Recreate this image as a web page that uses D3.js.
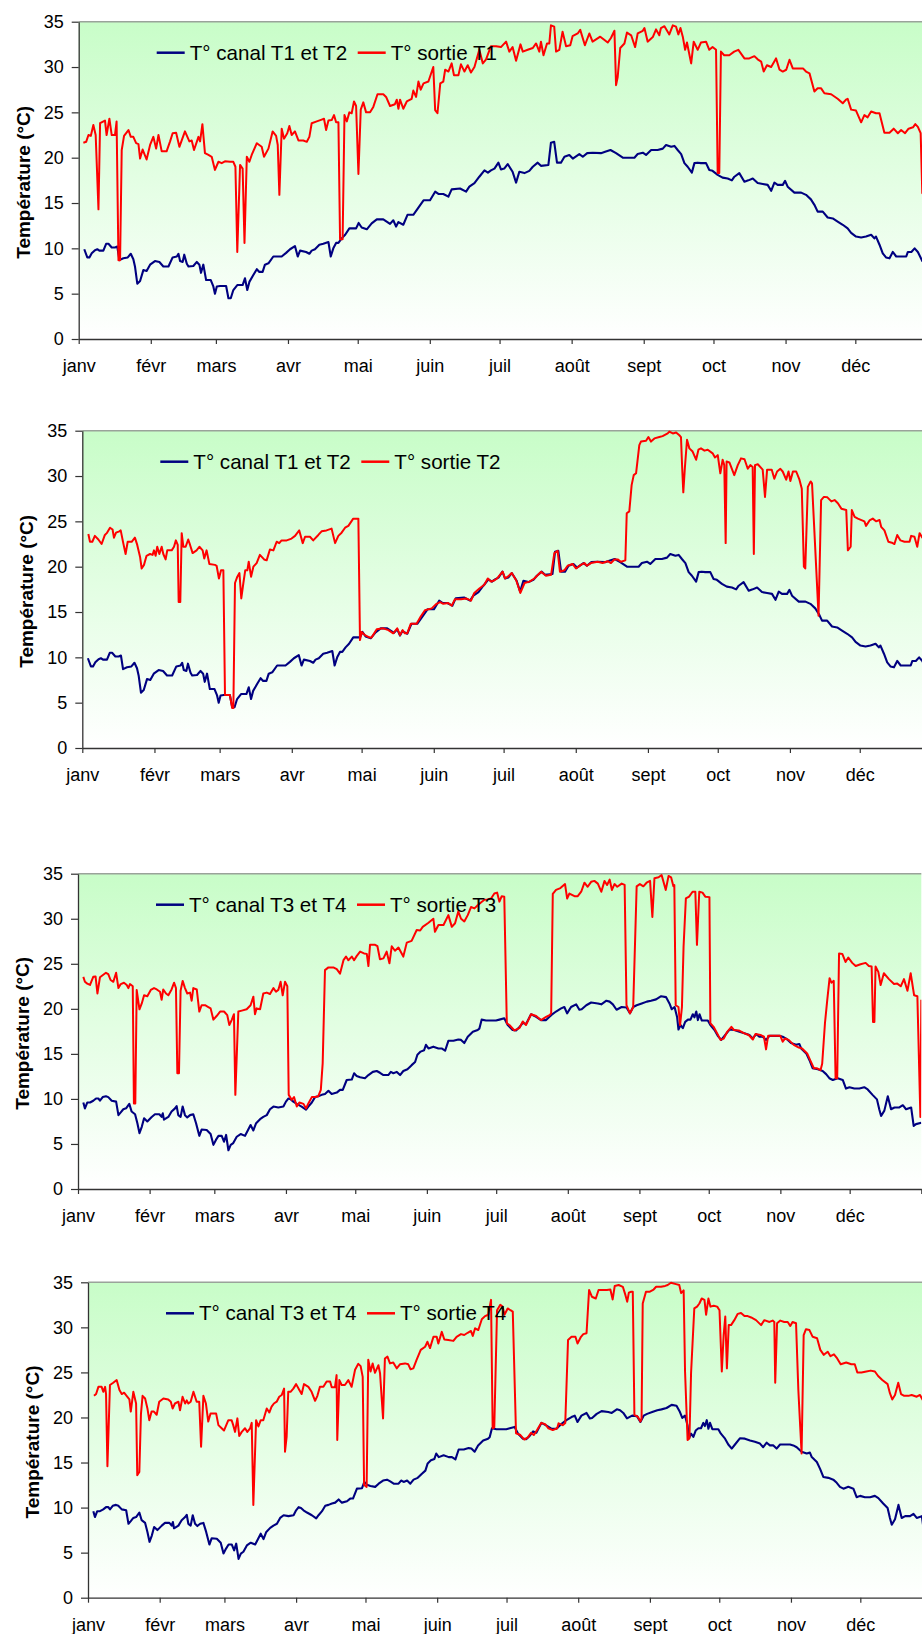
<!DOCTYPE html>
<html><head><meta charset="utf-8">
<script src="https://cdn.jsdelivr.net/npm/d3@7"></script>
<style>body{margin:0;background:#fff}svg{display:block}text{font-family:"Liberation Sans",Arial,sans-serif}</style>
</head><body><svg id="c" width="922" height="1634"></svg>
<script>
const monthLabels = ["janv","févr","mars","avr","mai","juin","juil","août","sept","oct","nov","déc"];
const yTicks = [0,5,10,15,20,25,30,35];
const yTitle = "Température (°C)";
const canalLabels = ["T° canal T1 et T2","T° canal T1 et T2","T° canal T3 et T4","T° canal T3 et T4"];
const sortieLabels = ["T° sortie T1","T° sortie T2","T° sortie T3","T° sortie T4"];

// [day of year, °C]
const canalT12 = [[2.4,9.9],[3.7,9.0],[4.6,9.0],[5.6,9.45],[7,9.8],[8,9.9],[8.9,9.75],[10.6,9.75],[11.8,10.5],[12.8,10.5],[14.2,10.1],[15.6,10.1],[16.6,10.2],[17.5,8.7],[19.2,8.9],[21.1,9.0],[22.4,9.4],[23.5,8.8],[24.2,8.0],[25.2,6.1],[26.4,6.4],[27.8,7.6],[29.2,7.5],[30.7,8.2],[32.8,8.6],[34.7,8.5],[36.4,8.0],[38.6,8.0],[40.4,9.0],[42.2,9.1],[42.9,9.4],[43.6,8.6],[44.7,8.5],[45.4,9.3],[46.5,8.3],[47.2,8.0],[49.3,8.05],[50.8,8.5],[51.9,8.2],[52.6,7.3],[53.6,8.2],[54.8,6.5],[56.8,6.5],[57.9,5.8],[58.6,5.0],[59.4,5.8],[60.8,5.85],[63.4,5.85],[64.4,4.5],[65.4,4.5],[66.5,5.4],[68.2,5.95],[70.5,5.95],[71.5,6.7],[72.5,5.4],[73.4,6.3],[75.1,7.05],[76.6,7.7],[77.7,7.4],[79.1,7.4],[80.1,8.2],[81.6,8.35],[83.7,9.1],[85.4,9.1],[87.3,9.1],[89.2,9.5],[90.9,9.9],[93.0,10.25],[94.2,9.1],[95.2,9.75],[97.8,9.6],[99.2,9.4],[100.2,9.75],[101.6,9.9],[103.5,10.4],[105.2,10.5],[107.4,10.7],[108.4,9.1],[109.5,10.0],[110.7,10.6],[111.7,10.6],[113.1,11.1],[114.6,11.5],[116.4,12.2],[119.3,12.2],[120.4,12.8],[121.7,12.3],[123.9,12.1],[126.0,12.75],[128.2,13.2],[131.0,13.2],[133.9,12.7],[135.3,13.1],[136.5,12.4],[137.5,12.9],[139.6,12.6],[141.4,13.7],[143.9,13.7],[146.1,14.5],[148.3,15.3],[151.1,15.3],[153.3,16.25],[154.7,16.0],[156.8,16.0],[159.0,15.7],[160.4,16.5],[164.0,16.6],[166.6,16.25],[168.0,16.8],[170.2,17.2],[172.3,17.9],[174.5,18.6],[176.0,18.35],[177.3,18.6],[178.8,18.8],[180.5,19.45],[181.6,18.7],[183.0,18.8],[184.5,19.3],[186.6,18.45],[188.1,17.25],[189.5,18.45],[191.7,18.3],[193.8,18.55],[195.3,19.0],[197.4,19.45],[198.8,19.1],[202.0,19.2],[203.1,21.65],[204.5,21.75],[205.7,19.45],[207.4,19.45],[208.9,20.1],[211.0,20.3],[212.5,19.9],[215.3,20.4],[216.8,20.1],[218.7,20.5],[221.1,20.55],[224.6,20.5],[226.4,20.65],[228.7,20.85],[231.1,20.5],[234.0,20.0],[236.1,20.0],[239.0,20.0],[240.4,20.4],[242.6,20.55],[244.0,20.3],[246.2,20.85],[249.0,20.85],[251.2,21.0],[252.6,21.4],[254.8,21.2],[256.2,21.3],[257.6,20.85],[259.1,20.4],[260.5,19.4],[261.9,19.0],[263.7,18.35],[264.8,19.4],[266.2,19.45],[267.6,19.4],[269.8,19.4],[271.2,18.65],[272.6,18.55],[274.8,18.1],[276.9,17.8],[279.1,17.7],[280.9,17.5],[282.0,17.9],[284.1,18.3],[286.3,17.35],[288.0,17.5],[289.9,17.7],[292.0,17.2],[294.2,17.1],[296.3,17.0],[297.8,16.35],[299.2,17.25],[300.6,17.0],[302.8,17.0],[303.8,17.45],[304.9,16.8],[307.8,16.15],[310.7,16.15],[312.8,15.9],[314.9,15.4],[316.4,14.8],[317.8,14.05],[320.0,14.05],[322.1,13.4],[324.3,13.3],[326.4,12.95],[328.6,12.6],[330.7,12.2],[332.2,11.7],[334.3,11.3],[336.5,11.2],[338.6,11.3],[340.8,11.5],[342.2,11.1],[342.9,11.3],[344.4,10.4],[345.8,9.45],[347.2,9.0],[348.7,8.9],[350.1,9.6],[351.6,9.1],[353.7,9.1],[355.9,9.1],[356.6,9.6],[358.1,9.6],[359.5,10.0],[360.9,9.6],[362.8,8.6],[364.5,8.8]];

const sortieT1 = [[2.0,21.65],[3.2,21.75],[4.2,22.5],[5.2,22.4],[6.3,23.6],[7.3,22.5],[8.5,14.3],[9.2,23.8],[11.3,24.1],[12.0,22.5],[13.2,24.3],[14.2,22.5],[15.6,22.5],[16.3,24.0],[17.1,8.7],[17.8,8.7],[18.5,20.85],[19.5,22.4],[21.4,23.05],[22.4,22.3],[23.5,22.3],[24.7,21.6],[25.7,21.5],[26.4,19.9],[27.5,20.9],[29.2,19.8],[30.7,21.4],[32.1,22.3],[33.3,21.0],[34.3,22.5],[35.7,20.7],[37.8,20.7],[39.3,21.8],[40.4,22.7],[41.9,22.75],[43.3,21.2],[45.7,22.9],[47.6,21.8],[48.6,21.9],[49.6,20.85],[51.5,22.3],[52.2,21.8],[53.2,23.7],[54.3,20.5],[55.8,20.3],[57.2,20.1],[58.6,18.65],[60.1,19.55],[61.5,19.4],[62.9,19.6],[65.1,19.55],[66.5,19.55],[67.4,19.0],[68.2,9.6],[69.4,19.2],[70.5,18.8],[71.3,10.6],[72.3,20.1],[73.4,19.55],[74.4,20.3],[76.6,21.6],[78.7,21.2],[79.7,20.1],[81.6,21.0],[83.4,22.9],[84.9,22.4],[85.6,21.4],[86.3,15.9],[87.3,23.2],[88.3,22.1],[89.7,22.7],[90.6,23.5],[91.6,22.5],[93.0,22.9],[94.5,21.9],[96.6,21.9],[98.1,21.75],[99.2,22.3],[100.2,23.8],[102.4,24.0],[104.5,24.2],[105.5,24.3],[106.4,23.05],[107.4,24.1],[108.8,24.15],[109.8,24.7],[110.7,23.9],[111.7,23.9],[112.4,11.0],[113.5,11.0],[114.3,24.7],[115.3,24.0],[116.4,25.0],[117.4,24.9],[118.4,26.2],[119.3,25.7],[120.3,18.2],[121.3,25.3],[122.4,26.1],[123.6,25.0],[125.3,25.0],[126.7,25.6],[128.5,27.0],[131.0,27.0],[132.2,26.7],[133.9,25.7],[136.0,25.9],[136.8,26.4],[137.5,25.4],[138.2,26.4],[139.6,25.4],[141.1,26.2],[143.2,26.5],[143.9,27.4],[145.1,26.7],[146.1,28.4],[147.1,27.5],[148.3,28.2],[150.4,28.4],[152.5,30.0],[153.3,25.25],[154.3,24.9],[155.5,28.2],[156.8,28.4],[157.6,29.7],[159.0,29.5],[160.4,30.4],[161.4,29.1],[163.3,29.1],[164.4,30.3],[165.9,29.5],[167.3,30.2],[168.7,29.4],[170.2,30.0],[172.3,31.9],[173.8,30.4],[175.2,30.85],[177.3,32.3],[179.5,32.3],[181.6,32.2],[183.8,32.8],[185.2,31.7],[186.6,32.2],[188.1,30.7],[190.0,32.5],[191.0,31.7],[193.1,31.9],[195.3,32.1],[196.7,32.6],[198.1,31.7],[198.8,32.8],[199.9,31.3],[201.4,32.6],[202.4,32.6],[203.1,34.6],[204.5,34.45],[205.3,31.7],[206.7,31.9],[208.1,33.9],[209.6,32.3],[211.4,32.4],[212.4,33.4],[214.6,33.7],[215.7,34.1],[217.7,32.4],[219.6,33.7],[221.0,32.8],[222.5,33.05],[224.3,33.35],[226.0,33.0],[227.5,32.7],[228.9,33.2],[230.4,34.0],[231.1,28.0],[231.8,28.9],[232.9,32.1],[234.7,32.6],[235.8,33.8],[237.6,33.5],[239.3,32.2],[240.4,33.7],[242.6,34.0],[243.3,34.3],[244.7,32.8],[246.9,33.3],[248.3,34.15],[249.7,33.5],[250.4,34.3],[251.9,34.5],[254.0,33.6],[255.5,34.6],[256.9,34.45],[257.9,33.6],[258.8,34.3],[259.8,33.35],[260.8,31.9],[261.6,32.7],[263.4,30.4],[264.5,32.8],[266.2,31.9],[267.6,32.7],[269.8,32.8],[271.2,31.9],[272.6,32.2],[274.1,31.9],[274.8,18.3],[275.5,18.3],[276.2,31.7],[277.6,31.3],[279.8,31.3],[281.9,31.7],[283.7,31.9],[286.3,30.95],[288.4,30.95],[290.6,31.2],[292.0,30.85],[293.5,30.6],[294.6,29.5],[296.0,30.2],[297.8,30.0],[299.9,30.95],[301.4,29.7],[302.8,29.5],[304.3,29.7],[305.7,30.8],[307.1,29.85],[309.3,29.85],[311.5,29.85],[312.8,29.5],[314.3,29.3],[316.4,27.3],[317.8,27.65],[319.3,27.65],[320.7,27.1],[323.6,27.0],[326.4,26.5],[328.6,26.0],[330.0,26.4],[330.7,26.5],[332.2,25.3],[334.3,25.2],[336.5,23.9],[337.9,24.7],[339.3,24.45],[340.8,25.1],[342.9,24.9],[344.4,24.9],[346.5,22.75],[348.7,22.75],[350.5,23.2],[352.3,22.7],[353.7,23.05],[355.4,22.7],[356.9,23.2],[358.8,23.35],[359.8,23.7],[360.9,23.4],[362.1,22.7],[362.8,16.1],[364.5,15.5]];

const sortieT2 = [[2.6,23.6],[3.3,22.75],[4.3,22.75],[5.4,23.4],[6.9,23.0],[8.3,22.5],[9.7,23.5],[10.5,23.7],[11.9,24.3],[13.0,24.1],[13.6,23.2],[14.5,23.75],[15.9,23.9],[16.5,24.0],[17.6,22.6],[18.6,21.4],[19.5,22.75],[21.2,22.75],[22.6,23.2],[23.6,22.4],[24.8,21.1],[25.5,19.8],[26.5,20.2],[27.6,21.2],[29.1,21.4],[30.2,21.3],[30.8,21.8],[31.5,21.2],[32.2,22.2],[33.1,21.4],[34.1,22.2],[34.8,21.4],[35.8,20.8],[36.5,21.8],[38.4,21.8],[39.4,22.2],[40.2,22.9],[41.0,22.4],[41.4,16.1],[42.1,16.1],[42.7,23.7],[43.4,22.2],[44.4,22.2],[45.5,23.0],[46.3,22.4],[47.4,21.5],[49.1,21.8],[50.3,22.2],[51.7,21.8],[52.4,20.9],[53.4,21.8],[54.6,20.3],[57.0,20.2],[57.7,20.1],[58.7,18.7],[59.6,19.6],[60.6,19.6],[61.3,5.85],[63.4,5.85],[64.4,4.4],[64.9,4.4],[65.6,18.2],[66.6,18.9],[67.5,19.3],[68.3,16.5],[69.2,18.2],[70.0,19.6],[70.9,19.6],[71.5,20.55],[72.5,18.9],[73.5,20.0],[74.9,20.4],[76.3,21.3],[78.1,20.8],[79.2,20.7],[80.6,21.9],[82.1,21.8],[83.5,22.75],[84.6,22.6],[85.6,22.9],[87.8,22.9],[89.9,23.1],[91.4,23.4],[93.2,24.0],[94.7,22.6],[95.7,23.3],[97.8,23.3],[99.2,22.9],[101.4,23.5],[102.8,23.9],[104.9,24.0],[107.1,24.2],[108.6,22.6],[110.0,23.4],[111.4,23.75],[112.9,24.3],[114.3,24.5],[116.4,25.3],[118.6,25.3],[119.3,11.9],[120.0,12.8],[121.4,12.45],[123.3,12.2],[124.3,12.2],[126.5,13.1],[129.3,13.2],[131.5,13.0],[133.6,12.65],[135.3,13.2],[136.5,12.45],[137.6,13.0],[138.6,12.65],[139.6,12.65],[141.1,13.7],[143.6,13.7],[145.4,14.5],[147.2,15.2],[150.1,15.4],[152.2,15.9],[153.7,16.1],[155.1,15.9],[157.2,16.0],[158.7,15.7],[160.1,16.4],[162.7,16.4],[164.9,16.5],[167.0,16.25],[168.4,17.1],[170.6,17.6],[172.7,18.0],[174.2,18.7],[175.6,18.35],[177.1,18.5],[178.2,18.7],[180.6,19.45],[181.6,18.7],[182.8,18.9],[184.5,19.3],[186.4,18.5],[188.2,17.1],[190.0,18.2],[192.1,18.35],[194.2,18.7],[197.1,19.45],[199.2,19.0],[201.4,19.1],[202.8,21.5],[204.2,21.75],[205.2,19.45],[207.1,19.6],[208.5,20.1],[210.6,20.3],[212.1,19.8],[214.2,20.2],[215.7,20.4],[216.8,20.1],[218.5,20.4],[221.4,20.55],[223.5,20.4],[225.7,20.6],[227.1,20.4],[228.6,20.8],[230.0,20.8],[231.4,20.55],[233.3,20.7],[233.9,25.9],[235.0,26.1],[236.0,29.0],[236.9,30.1],[237.9,30.3],[239.3,33.4],[240.0,33.8],[242.2,33.9],[243.2,34.3],[244.3,33.8],[245.8,34.15],[247.9,34.3],[249.3,34.4],[251.5,34.7],[252.2,34.9],[253.7,34.7],[255.1,34.8],[256.5,34.5],[257.2,34.3],[257.7,31.0],[258.2,28.2],[258.9,31.0],[259.8,34.0],[260.8,33.05],[262.2,32.7],[263.7,31.8],[264.7,32.9],[265.8,33.05],[267.3,32.8],[268.7,32.9],[270.8,32.5],[271.8,32.05],[273.0,32.3],[274.1,30.3],[275.1,31.8],[275.8,31.2],[276.4,22.6],[276.8,31.6],[278.0,31.5],[280.1,30.1],[281.6,31.2],[283.0,31.95],[284.5,31.85],[285.9,30.8],[287.0,31.2],[288.0,31.0],[288.5,21.4],[289.0,31.2],[290.2,31.3],[292.3,30.7],[293.3,27.7],[294.2,30.7],[296.2,30.7],[297.3,29.7],[298.5,30.5],[299.9,30.8],[300.9,30.5],[302.4,29.6],[303.4,30.5],[304.2,29.45],[305.3,30.5],[306.7,30.5],[308.1,29.6],[309.1,28.6],[310.0,20.0],[310.6,19.8],[311.7,28.8],[312.9,29.4],[313.5,29.2],[316.3,14.6],[317.4,27.35],[318.6,27.7],[320.1,27.65],[321.8,27.2],[323.2,27.35],[324.6,27.0],[326.1,26.4],[328.2,26.25],[328.9,21.8],[330.1,22.2],[330.6,26.25],[331.8,25.5],[333.2,25.3],[336.0,25.0],[336.7,24.5],[338.2,25.1],[339.6,25.3],[341.0,25.0],[342.5,25.15],[343.2,24.4],[344.6,24.0],[346.3,22.75],[347.8,22.65],[348.9,22.5],[350.1,23.5],[351.5,22.9],[353.2,22.75],[355.4,22.75],[356.1,23.4],[357.5,23.3],[358.7,22.2],[359.7,23.7],[360.9,23.2],[363,23.0]];

const canalT34 = [[2.3,9.6],[3.0,8.95],[4.0,9.6],[5.2,9.6],[6.6,9.8],[7.8,10.05],[8.8,10.05],[9.5,9.8],[10.7,10.2],[12.1,10.3],[13.1,10.2],[14.6,9.8],[16.5,9.7],[17.5,8.2],[18.5,8.5],[19.6,8.85],[20.8,8.95],[22.2,9.45],[23.2,8.6],[24.7,8.3],[25.7,7.3],[26.6,6.2],[27.6,6.9],[28.6,7.85],[30.0,7.5],[31.9,8.0],[33.3,8.3],[35.2,8.3],[36.2,8.0],[36.7,8.4],[37.2,7.7],[39.1,8.0],[40.5,8.6],[42.0,8.95],[42.7,9.2],[43.4,8.2],[44.4,8.0],[45.3,9.15],[46.3,8.2],[47.3,7.95],[48.5,8.2],[49.9,8.3],[51.1,7.3],[52.5,5.9],[53.5,6.6],[55.7,6.55],[57.4,6.1],[58.6,4.9],[59.7,5.45],[60.8,5.9],[62.2,5.9],[63.2,5.25],[64.1,6.0],[65.1,4.3],[66.1,4.9],[67.2,5.1],[68.7,5.8],[70.4,6.1],[72.3,5.9],[73.7,6.6],[74.7,7.1],[75.9,6.5],[77.1,7.3],[78.8,7.75],[80.2,8.0],[81.7,8.2],[83.1,8.85],[84.6,9.15],[86.7,9.05],[88.9,9.15],[90.0,9.7],[91.1,10.05],[92.1,9.95],[93.2,9.7],[94.7,9.45],[96.8,9.15],[98.7,8.8],[99.7,9.15],[101.2,9.6],[102.6,10.2],[104.0,10.3],[105.5,10.45],[106.9,10.55],[108.4,10.9],[109.8,10.55],[112.0,10.7],[113.4,11.0],[114.6,11.0],[116.3,12.1],[118.5,12.15],[119.5,12.85],[120.6,12.55],[122.1,12.4],[124.2,12.3],[125.7,12.65],[127.6,13.0],[129.3,13.1],[130.7,12.9],[132.2,12.65],[134.3,12.65],[135.4,13.0],[136.5,12.85],[138.0,13.0],[139.4,12.65],[140.8,13.1],[142.6,13.3],[144.4,13.75],[145.9,14.1],[146.9,14.9],[148.3,15.25],[149.8,15.4],[150.6,16.0],[151.7,15.6],[153.8,15.8],[156.0,15.6],[157.4,15.6],[158.9,15.35],[160.3,16.45],[162.5,16.45],[164.6,16.6],[165.8,16.55],[167.2,16.2],[168.7,16.9],[170.9,17.45],[173.0,17.65],[173.7,17.8],[174.7,18.8],[176.6,18.7],[178.8,18.7],[180.9,18.7],[182.4,18.8],[184.5,18.95],[186.0,18.2],[188.1,17.65],[189.6,17.6],[191.0,17.95],[192.5,18.45],[193.9,18.3],[196.1,19.4],[198.3,19.1],[200.4,18.75],[202.6,18.75],[204.8,19.3],[206.9,19.7],[209.1,20.05],[210.5,20.2],[211.7,19.5],[213.4,20.2],[215.6,20.5],[217.0,19.9],[218.0,19.95],[220.0,20.4],[222.1,20.7],[225.0,20.6],[226.5,20.5],[228.7,20.9],[230.1,20.8],[231.5,20.5],[233.1,19.9],[235.3,20.2],[237.4,20.15],[238.9,19.5],[240.3,20.2],[241.8,20.4],[244.0,20.6],[246.2,20.8],[248.0,20.9],[250.2,21.05],[252.4,21.4],[254.5,21.3],[256.0,20.6],[257.0,19.95],[258.2,20.2],[259.3,19.1],[259.9,17.7],[260.8,18.2],[261.8,17.85],[262.8,18.55],[264.0,18.8],[265.1,18.8],[266.1,19.4],[266.8,19.05],[267.6,19.7],[268.3,18.75],[269.0,19.4],[270.0,18.7],[272.6,18.7],[273.7,18.2],[275.5,17.65],[276.9,17.0],[278.4,16.55],[279.8,17.0],[282.0,17.7],[284.1,17.65],[286.3,17.45],[288.4,17.3],[290.6,17.1],[292.0,16.7],[293.5,17.2],[294.9,16.9],[296.4,16.9],[297.8,16.55],[299.3,17.0],[301.4,17.0],[303.6,17.0],[305.0,16.9],[306.5,16.7],[308.6,16.2],[310.8,16.0],[312.2,16.1],[313.0,15.6],[315.2,15.05],[316.6,14.3],[318.0,13.4],[320.2,13.3],[322.3,13.1],[323.8,12.75],[325.2,12.3],[326.7,12.1],[328.8,12.3],[331.0,12.1],[332.4,11.15],[333.9,11.3],[336.0,11.15],[338.2,11.15],[340.3,11.3],[341.8,11.05],[343.9,10.45],[345.8,9.95],[346.8,8.85],[347.6,8.1],[349.0,8.7],[350.5,10.3],[351.9,8.85],[353.4,9.05],[355.5,9.05],[357.0,9.3],[358.4,8.85],[360.6,9.05],[361.7,7.0],[362.7,7.2],[365,7.35]];

const sortieT3 = [[2.3,23.55],[3.0,23.0],[4.0,22.8],[5.2,22.65],[6.6,23.55],[7.6,23.6],[8.4,21.7],[9.5,23.5],[10.8,23.75],[12.1,24.0],[13.1,23.85],[14.1,23.2],[15.3,23.0],[16.5,24.0],[17.5,22.3],[18.5,22.75],[19.9,22.9],[21.1,22.65],[21.8,22.3],[22.5,22.75],[23.7,22.5],[24.2,9.5],[24.8,9.5],[25.4,22.1],[26.6,19.95],[27.6,20.6],[28.6,21.5],[30.0,21.4],[31.5,22.1],[32.9,22.3],[34.1,22.15],[35.5,21.9],[36.2,21.0],[36.9,22.15],[38.1,21.7],[39.1,21.5],[40.5,22.15],[41.6,22.9],[42.4,22.3],[43.0,12.85],[43.7,12.85],[44.4,22.0],[45.3,23.1],[46.3,22.3],[47.3,21.7],[48.5,21.8],[49.2,20.9],[49.9,22.3],[51.4,22.15],[52.5,19.7],[53.5,20.4],[55.0,20.4],[56.4,20.2],[57.4,20.05],[58.6,18.8],[60.0,19.2],[61.5,19.7],[63.2,19.7],[64.6,19.3],[65.5,18.2],[66.5,18.75],[67.5,19.4],[68.1,10.45],[69.4,19.7],[70.9,19.8],[73.0,19.95],[74.7,20.4],[75.9,21.35],[76.6,19.4],[77.3,20.05],[78.8,19.95],[80.2,21.7],[81.7,21.8],[83.1,21.65],[84.6,22.3],[85.7,21.9],[86.7,22.1],[87.7,23.0],[88.6,21.5],[89.6,23.0],[90.6,22.5],[91.2,10.45],[92.5,9.9],[93.5,10.2],[94.7,9.15],[95.8,9.6],[97.6,9.45],[98.7,8.95],[99.7,9.5],[101.2,10.2],[102.6,10.2],[104.0,10.3],[105.1,11.0],[105.9,13.95],[106.9,24.3],[108.4,24.6],[110.5,24.6],[112.0,24.4],[113.4,23.9],[114.9,25.4],[116.0,25.8],[117.0,25.4],[118.5,25.8],[119.5,25.4],[120.6,25.85],[122.1,26.35],[123.8,26.15],[125.0,26.1],[125.7,24.75],[126.4,27.1],[128.6,27.1],[129.6,26.95],[130.7,25.5],[132.2,25.6],[133.6,26.35],[134.8,25.05],[135.8,26.95],[137.2,26.45],[138.7,26.8],[140.8,25.8],[142.3,27.35],[144.4,27.55],[146.6,28.75],[148.1,28.7],[149.2,29.1],[151.7,29.55],[153.8,30.0],[154.5,28.55],[156.0,29.3],[158.2,29.3],[160.3,30.4],[161.8,29.1],[163.2,29.5],[164.6,30.8],[165.8,30.0],[167.2,29.7],[168.7,30.4],[170.1,31.3],[171.6,31.15],[173.0,31.5],[174.4,31.8],[175.9,32.1],[177.3,32.15],[178.8,32.25],[180.2,32.8],[181.4,32.9],[182.4,31.9],[183.4,32.5],[184.5,32.45],[185.6,18.4],[186.7,18.2],[188.9,17.6],[191.0,17.85],[192.5,18.6],[193.9,18.2],[196.1,19.4],[198.3,19.2],[200.4,18.75],[202.6,19.1],[204.1,19.3],[204.8,19.5],[205.5,32.75],[206.9,33.2],[208.8,33.4],[210.8,33.85],[211.7,32.25],[212.7,32.8],[214.9,32.5],[216.3,32.5],[217.8,33.0],[219.2,34.0],[220.6,33.55],[222.1,34.1],[223.5,34.2],[225.0,33.9],[226.5,33.0],[227.9,34.2],[229.0,33.75],[230.1,34.35],[231.1,33.2],[232.2,33.85],[233.4,33.55],[235.3,33.9],[236.6,33.75],[237.4,20.4],[238.9,19.5],[240.3,20.2],[241.8,33.6],[243.2,33.85],[244.7,33.6],[246.1,34.0],[247.6,34.2],[248.6,30.2],[249.5,34.5],[251.3,34.6],[252.6,34.85],[254.4,33.2],[255.6,34.75],[256.7,34.6],[257.7,33.6],[258.1,33.75],[258.7,20.4],[259.9,20.2],[260.6,18.2],[261.4,20.2],[262.1,26.9],[263.1,32.25],[264.5,32.45],[266.0,33.0],[267.2,33.0],[267.9,27.1],[268.9,33.0],[270.3,32.9],[271.5,32.45],[273.3,32.4],[273.7,18.4],[275.1,18.0],[276.6,17.3],[278.1,16.55],[279.5,16.7],[281.0,17.45],[282.8,18.0],[283.9,17.65],[286.0,17.6],[288.2,17.3],[290.3,17.1],[292.1,16.6],[293.2,17.2],[295.4,17.1],[296.9,16.9],[297.8,15.5],[298.7,17.0],[301.2,17.0],[304.0,17.0],[305.0,16.35],[306.0,16.7],[307.6,16.55],[309.8,16.0],[312.0,15.7],[313.4,15.6],[315.6,15.05],[317.0,14.25],[318.5,13.4],[319.9,13.4],[321.4,13.2],[322.1,13.9],[323.3,18.4],[324.3,21.0],[325.3,23.4],[326.1,22.9],[327.1,23.1],[327.9,12.3],[328.6,12.3],[329.4,26.15],[330.8,26.1],[332.2,25.2],[333.4,25.7],[335.1,25.1],[336.6,24.75],[338.7,24.95],[340.9,25.1],[342.3,24.75],[343.5,24.7],[344.1,18.55],[344.7,18.55],[345.2,24.7],[346.4,24.1],[347.4,22.65],[348.8,23.95],[351.0,23.3],[353.2,22.75],[354.6,22.8],[356.1,22.5],[357.5,23.3],[359.0,22.0],[360.4,23.95],[361.9,21.5],[363.3,21.4],[364.6,8.0],[365,21.0]];

const sortieT4 = [[2.6,22.4],[3.5,22.6],[4.5,23.4],[5.9,23.4],[6.6,22.85],[7.4,23.4],[7.8,22.6],[8.4,14.6],[9.5,23.6],[10.9,23.85],[12.4,24.15],[13.6,23.05],[14.6,22.6],[15.6,22.75],[16.7,22.4],[17.9,22.0],[18.5,20.65],[19.6,22.85],[20.8,21.55],[21.3,13.6],[22.2,13.95],[22.9,20.4],[23.6,22.4],[24.7,22.1],[25.7,21.0],[26.5,19.7],[27.5,20.65],[28.5,20.65],[29.7,20.3],[30.8,21.75],[32.6,22.1],[34.7,22.0],[35.8,21.75],[36.6,21.0],[37.6,21.55],[39.1,21.75],[39.8,20.8],[40.9,22.3],[42.0,21.55],[42.7,21.9],[43.4,21.55],[44.4,21.75],[45.6,22.85],[47.0,21.75],[48.1,21.75],[48.9,16.75],[49.9,22.4],[51.0,21.55],[52.0,19.55],[53.0,20.45],[54.2,20.45],[55.4,20.45],[56.4,19.15],[57.8,18.8],[58.8,18.55],[60.7,19.7],[62.1,19.7],[62.8,19.15],[63.6,18.4],[64.6,19.9],[65.4,17.95],[66.5,18.4],[67.9,18.8],[68.9,18.4],[70.1,18.8],[70.8,19.4],[71.5,10.3],[72.7,19.7],[73.7,19.0],[74.7,19.7],[75.8,19.7],[77.3,21.0],[78.4,20.55],[79.4,21.2],[80.4,21.55],[81.6,21.75],[82.7,22.3],[83.8,22.5],[84.8,23.2],[85.2,16.2],[85.9,17.85],[86.6,22.85],[87.6,22.85],[88.8,23.2],[90.0,23.7],[91.4,23.05],[92.4,22.6],[93.4,23.7],[95.3,23.4],[96.7,22.85],[98.2,21.85],[99.2,22.4],[100.3,23.4],[101.8,23.4],[103.2,24.0],[104.7,24.0],[105.4,23.35],[106.8,23.35],[107.5,24.7],[107.8,17.5],[108.7,24.15],[109.7,23.6],[111.1,23.6],[112.6,24.15],[114.0,23.4],[115.5,25.3],[116.9,25.95],[117.9,25.7],[118.8,24.5],[119.4,12.5],[120.5,12.3],[121.2,26.4],[122.2,25.1],[123.1,26.0],[124.1,24.95],[125.6,25.8],[126.3,24.9],[127.6,19.9],[128.4,26.55],[129.5,26.75],[130.6,26.0],[132.0,26.1],[133.5,25.45],[134.9,25.9],[137.1,26.0],[138.5,25.9],[139.5,25.35],[140.7,25.45],[142.1,26.4],[143.9,27.5],[145.8,27.85],[146.8,28.4],[147.9,27.7],[149.4,28.95],[150.8,28.95],[151.5,28.2],[153.0,29.5],[154.1,28.65],[155.8,28.6],[158.0,28.5],[159.4,28.95],[161.3,29.25],[162.7,29.15],[164.2,29.4],[165.6,29.6],[166.4,29.05],[167.4,29.9],[168.8,29.7],[170.3,30.9],[171.7,31.25],[173.1,31.4],[174.3,33.05],[175.0,18.8],[175.7,18.9],[176.9,31.9],[178.3,32.5],[179.3,32.3],[180.1,31.4],[181.5,32.1],[182.7,31.9],[183.7,31.75],[185.1,18.25],[187.0,18.05],[188.7,17.55],[190.2,17.8],[191.6,18.3],[192.8,18.05],[194.2,18.6],[196.0,19.4],[197.7,19.25],[199.1,18.8],[201.0,18.6],[202.9,18.8],[203.5,19.35],[205.3,19.15],[206.4,19.4],[207.6,28.6],[209.1,28.95],[210.8,28.95],[211.7,28.2],[213.2,28.95],[214.2,29.25],[215.6,29.35],[216.7,34.15],[217.9,33.4],[219.6,33.2],[220.8,34.15],[222.3,34.15],[224.4,34.15],[225.9,34.2],[226.9,33.1],[227.8,34.6],[229.5,34.7],[231.3,34.5],[232.4,33.6],[233.2,32.85],[233.9,33.85],[234.9,33.95],[235.6,33.95],[236.3,20.3],[237.7,20.1],[238.9,19.55],[239.4,19.9],[239.9,32.65],[241.3,33.95],[242.8,33.95],[244.6,34.2],[245.7,34.5],[247.8,34.5],[249.6,34.6],[250.7,34.7],[252.1,34.95],[254.3,34.8],[255.7,34.7],[256.5,33.8],[257.6,34.1],[258.2,25.1],[259.3,17.5],[260.1,17.7],[260.8,24.9],[262.2,32.1],[263.4,32.3],[264.4,32.65],[265.4,33.2],[266.6,33.05],[267.3,31.4],[268.3,33.2],[269.2,32.3],[270.6,32.4],[272.1,32.3],[273.1,31.9],[274.1,25.1],[274.9,29.15],[275.6,31.2],[276.3,25.45],[277.1,30.25],[278.1,30.25],[279.5,30.8],[281.0,31.5],[282.4,31.6],[283.9,31.25],[285.3,31.25],[286.8,31.1],[288.9,30.8],[291.1,30.25],[292.5,30.8],[294.7,30.6],[296.1,30.75],[296.8,30.6],[297.2,23.85],[298.0,30.45],[299.4,30.75],[301.1,30.6],[302.6,30.6],[303.7,30.15],[304.7,30.6],[306.2,30.45],[307.2,23.05],[308.0,19.0],[308.6,16.0],[309.5,29.15],[310.5,29.8],[312.0,29.7],[313.4,28.95],[315.3,28.8],[316.7,27.5],[318.2,26.95],[319.9,27.3],[321.1,26.8],[322.6,27.0],[324.0,26.55],[325.5,25.9],[327.9,26.1],[330.1,25.9],[331.6,25.9],[332.7,25.0],[334.5,25.0],[336.6,25.1],[338.5,25.2],[340.3,25.1],[341.7,24.6],[343.5,24.15],[345.8,23.7],[346.8,22.7],[347.8,22.0],[349.0,22.5],[350.4,23.85],[351.6,22.6],[353.0,22.4],[354.8,22.4],[356.2,22.5],[358.4,22.3],[359.8,22.5],[361.0,21.95],[363,21.8]];

const canalSeries = [canalT12, canalT12, canalT34, canalT34];
const sortieSeries = [sortieT1, sortieT2, sortieT3, sortieT4];

// layout of the four panels (pixels)
const frames = [
  {left:78.7, top:21.7,   bottom:339,    right:927.4},
  {left:82.3, top:430.7,  bottom:748,    right:931.9},
  {left:78,   top:873.7,  bottom:1189,   right:921.3},
  {left:88,   top:1282.3, bottom:1597.7, right:932}
];

const svg = d3.select("#c");
const defs = svg.append("defs");
const grad = defs.append("linearGradient").attr("id","bg").attr("x1",0).attr("y1",0).attr("x2",0).attr("y2",1);
grad.append("stop").attr("offset","0%").attr("stop-color","#C8FDC8");
grad.append("stop").attr("offset","100%").attr("stop-color","#FFFFFF");

const t0 = new Date(Date.UTC(2007,0,1));
const t1 = new Date(Date.UTC(2008,0,1));
const toDate = d => new Date(t0.getTime() + d*864e5);
const monthTicks = d3.utcMonth.range(t0, new Date(Date.UTC(2008,0,2)));

frames.forEach((f,i)=>{
  const x = d3.scaleUtc().domain([t0,t1]).range([f.left,f.right]);
  const y = d3.scaleLinear().domain([0,35]).range([f.bottom,f.top]);
  const g = svg.append("g");
  const w = Math.min(f.right,922) - f.left;

  defs.append("clipPath").attr("id","clip"+i).append("rect")
    .attr("x",f.left).attr("y",f.top-3).attr("width",f.right-f.left).attr("height",f.bottom-f.top+6);

  g.append("rect").attr("x",f.left).attr("y",f.top).attr("width",w).attr("height",f.bottom-f.top)
    .attr("fill","url(#bg)");
  g.append("line").attr("x1",f.left).attr("x2",f.right).attr("y1",f.top).attr("y2",f.top)
    .attr("stroke","#9aa39a").attr("stroke-width",1.6);

  // axes
  const ya = g.append("g").attr("transform",`translate(${f.left},0)`)
    .call(d3.axisLeft(y).tickValues(yTicks).tickSize(7).tickSizeOuter(0).tickPadding(8).tickFormat(d3.format("d")));
  const xa = g.append("g").attr("transform",`translate(0,${f.bottom})`)
    .call(d3.axisBottom(x).tickValues(monthTicks).tickSize(5).tickSizeOuter(0).tickPadding(15.5)
      .tickFormat((d,k)=> k < monthLabels.length ? monthLabels[k] : ""));
  [ya,xa].forEach(a=>{
    a.select(".domain").attr("stroke","#333").attr("stroke-width",1.3);
    a.selectAll(".tick line").attr("stroke","#333").attr("stroke-width",1.2);
    a.selectAll(".tick text").attr("fill","#000").style("font-size","18px")
      .style("font-family","'Liberation Sans', Arial, sans-serif");
  });

  g.append("text")
    .attr("transform",`translate(${f.left-55.5},${(f.top+f.bottom)/2+2}) rotate(-90)`)
    .attr("text-anchor","middle").attr("dy","0.35em")
    .style("font-size","19px").style("font-weight","bold").text(yTitle);

  const line = d3.line().x(d=>x(toDate(d[0]))).y(d=>y(d[1]));
  const lg = g.append("g").attr("clip-path",`url(#clip${i})`);
  lg.append("path").datum(canalSeries[i]).attr("d",line).attr("fill","none")
    .attr("stroke","#000080").attr("stroke-width",2.1).attr("stroke-linejoin","round");
  lg.append("path").datum(sortieSeries[i]).attr("d",line).attr("fill","none")
    .attr("stroke","#FF0000").attr("stroke-width",2).attr("stroke-linejoin","round");

  // legend
  const lx = f.left + 78, ly = f.top + 31;
  const leg = g.append("g").style("font-size","20.6px");
  leg.append("line").attr("x1",lx).attr("x2",lx+28).attr("y1",ly).attr("y2",ly)
    .attr("stroke","#000080").attr("stroke-width",2.5);
  leg.append("text").attr("x",lx+33).attr("y",ly+7).text(canalLabels[i]);
  const rx = lx + 33 + 168;
  leg.append("line").attr("x1",rx).attr("x2",rx+28).attr("y1",ly).attr("y2",ly)
    .attr("stroke","#FF0000").attr("stroke-width",2.5);
  leg.append("text").attr("x",rx+33).attr("y",ly+7).text(sortieLabels[i]);
});
</script></body></html>
